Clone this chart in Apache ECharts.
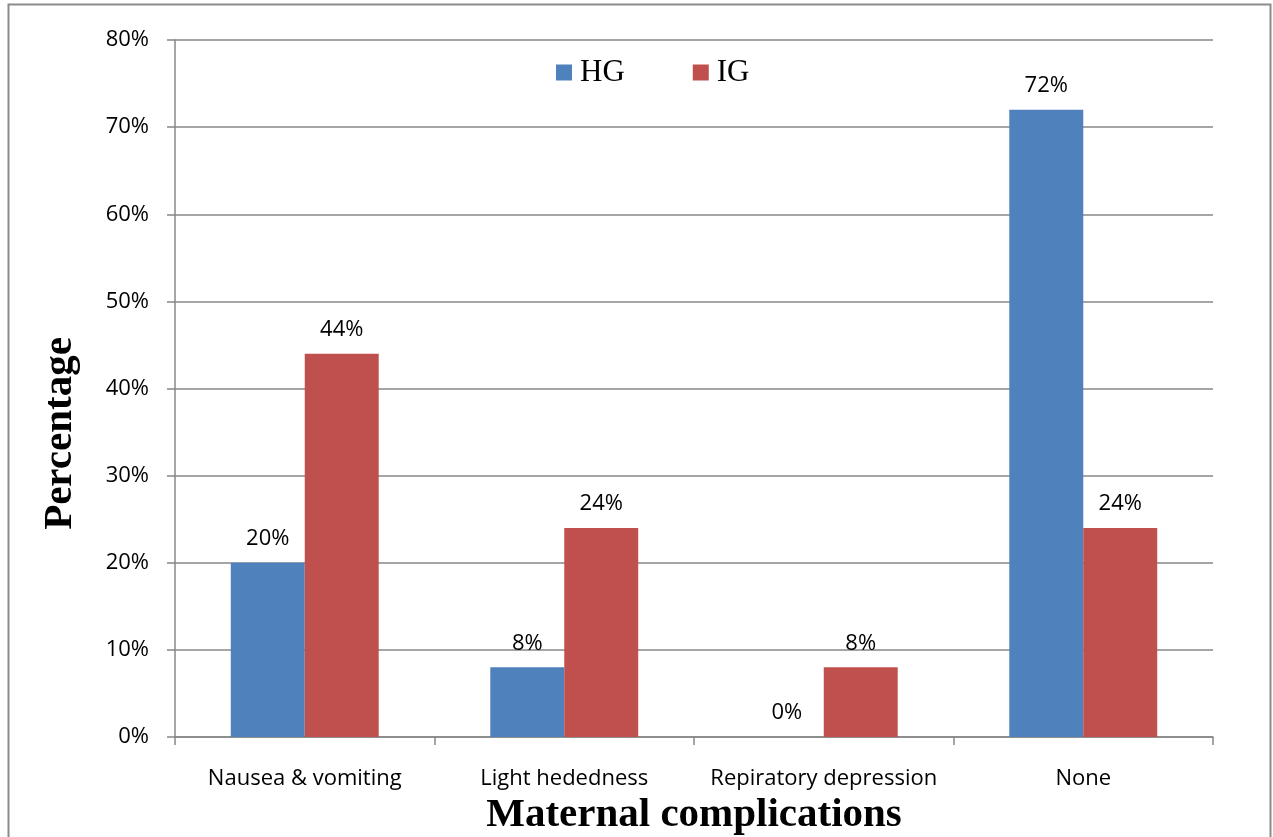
<!DOCTYPE html>
<html>
<head>
<meta charset="utf-8">
<title>Maternal complications</title>
<script src="https://cdn.jsdelivr.net/npm/echarts@6/dist/echarts.min.js"></script>
<style>
  html, body { margin: 0; padding: 0; background: #ffffff; }
  #chart { width: 1273px; height: 837px; }
</style>
</head>
<body>
<div id="chart"></div>
<script>
// Complication categories along the x axis
const categories = ['Nausea & vomiting', 'Light hededness', 'Repiratory depression', 'None'];
// Share of patients (%) in each group
const hgValues = [20, 8, 0, 72];
const igValues = [44, 24, 8, 24];
// Value axis range (%)
const yMin = 0;
const yMax = 80;
const yStep = 10;

const gridColor = '#878787';
const sansFont = '"Open Sans", "Liberation Sans", sans-serif';
const serifFont = '"Liberation Serif", "DejaVu Serif", serif';

const barLabel = {
  show: true,
  position: 'top',
  distance: 13,
  formatter: '{c}%',
  color: '#000',
  fontFamily: sansFont,
  fontSize: 22
};

const chart = echarts.init(document.getElementById('chart'), null, { renderer: 'canvas' });

chart.setOption({
  backgroundColor: '#ffffff',
  animation: false,
  graphic: [{
    type: 'rect',
    shape: { x: 8.5, y: 4.5, width: 1262, height: 900 },
    style: { fill: 'none', stroke: '#8c8c8c', lineWidth: 2 },
    silent: true,
    z: -1
  }],
  legend: {
    left: 551,
    top: 52,
    itemWidth: 16,
    itemHeight: 16,
    itemGap: 68,
    icon: 'rect',
    textStyle: {
      fontFamily: serifFont,
      fontSize: 31,
      color: '#000',
      padding: [0, 0, 0, 3]
    },
    data: ['HG', 'IG']
  },
  grid: {
    left: 175,
    top: 40,
    right: 60,
    bottom: 100,
    containLabel: false,
    outerBoundsMode: 'none'
  },
  xAxis: {
    type: 'category',
    data: categories,
    name: 'Maternal complications',
    nameLocation: 'middle',
    nameGap: 55,
    nameTextStyle: {
      fontFamily: serifFont,
      fontWeight: 'bold',
      fontSize: 41,
      color: '#000'
    },
    axisLine: { lineStyle: { color: gridColor, width: 1.5 } },
    axisTick: { show: true, interval: 0, length: 8, lineStyle: { color: gridColor, width: 1.5 } },
    axisLabel: {
      interval: 0,
      margin: 31,
      color: '#000',
      fontFamily: sansFont,
      fontSize: 22
    }
  },
  yAxis: {
    type: 'value',
    min: yMin,
    max: yMax,
    interval: yStep,
    name: 'Percentage',
    nameLocation: 'middle',
    nameGap: 94,
    nameRotate: 90,
    nameTextStyle: {
      fontFamily: serifFont,
      fontWeight: 'bold',
      fontSize: 41,
      color: '#000',
      padding: [0, 90, 0, 0]
    },
    axisLine: { show: true, lineStyle: { color: gridColor, width: 1.5 } },
    axisTick: { show: true, length: 8, lineStyle: { color: gridColor, width: 1.5 } },
    splitLine: { show: true, lineStyle: { color: gridColor, width: 1.5 } },
    axisLabel: {
      margin: 26,
      formatter: '{value}%',
      color: '#000',
      fontFamily: sansFont,
      fontSize: 22
    }
  },
  series: [
    {
      name: 'HG',
      type: 'bar',
      data: hgValues,
      barGap: '0%',
      barCategoryGap: '43%',
      itemStyle: { color: '#4f81bd' },
      label: barLabel
    },
    {
      name: 'IG',
      type: 'bar',
      data: igValues,
      itemStyle: { color: '#c0504d' },
      label: barLabel
    }
  ]
});
</script>
</body>
</html>
